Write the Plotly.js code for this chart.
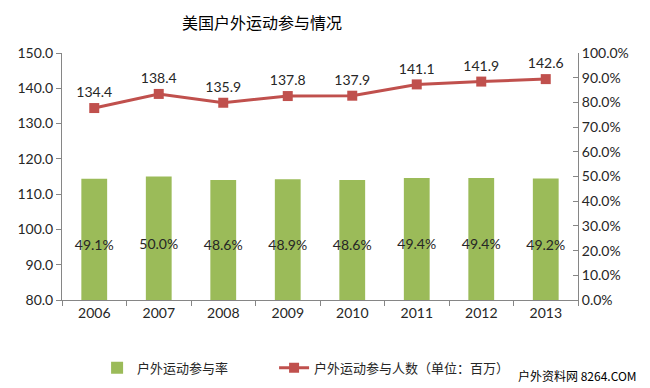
<!DOCTYPE html>
<html><head><meta charset="utf-8">
<script src="https://cdn.plot.ly/plotly-3.0.1.min.js"></script>
<style>body{margin:0;background:#fff}#chart{width:650px;height:388px}</style>
</head><body><div id="chart"></div>
<script>
const years = ['2006','2007','2008','2009','2010','2011','2012','2013'];
const rate = [49.1, 50.0, 48.6, 48.9, 48.6, 49.4, 49.4, 49.2];
const people = [134.4, 138.4, 135.9, 137.8, 137.9, 141.1, 141.9, 142.6];
const leftTicks = [80,90,100,110,120,130,140,150];
const rightTicks = [0,10,20,30,40,50,60,70,80,90,100];

const cjk = '"Noto Sans CJK SC", "Noto Sans", sans-serif';
const num = 'Lato, "Noto Sans", sans-serif';

const bar = {
  type:'bar', x: years, y: rate, yaxis:'y2', name:'户外运动参与率', legend:'legend',
  marker:{color:'#9BBB59'}, width:0.4, hoverinfo:'skip'
};
const barLabels = {
  type:'scatter', mode:'text', x: years, y: rate.map(v=>v/2), yaxis:'y2', showlegend:false,
  text: rate.map(v=>v.toFixed(1)+'%'), textposition:'bottom center',
  textfont:{family:num, size:14, color:'#262626'}, cliponaxis:false, hoverinfo:'skip'
};
const line = {
  type:'scatter', mode:'lines+markers+text', x: years, y: people, yaxis:'y', name:'户外运动参与人数（单位：百万）', legend:'legend2',
  line:{color:'#C0504D', width:3}, marker:{symbol:'square', size:10, color:'#C0504D'},
  text: people.map(v=>v.toFixed(1)), textposition:'top center',
  textfont:{family:num, size:14, color:'#262626'}, cliponaxis:false
};
const legFont = {family:cjk, size:13, color:'#262626'};
const layout = {
  width:650, height:388, margin:{l:62, r:72, t:53, b:88, autoexpand:false},
  paper_bgcolor:'#fff', plot_bgcolor:'#fff',
  title:{text:'美国户外运动参与情况', font:{family:cjk, size:16, color:'#000'}, x:0.403, xanchor:'center', y:0.94, yanchor:'middle'},
  showlegend:true,
  legend:{orientation:'h', x:0.068, xanchor:'left', yref:'container', y:0.052, yanchor:'middle', font:legFont},
  legend2:{orientation:'h', x:0.411, xanchor:'left', yref:'container', y:0.052, yanchor:'middle', font:legFont},
  xaxis:{type:'category', showline:true, linecolor:'#868686', linewidth:1, ticks:'outside', ticklen:5, tickcolor:'#868686',
    tickson:'boundaries', showgrid:false, tickfont:{family:num, size:14, color:'#262626'}, range:[-0.5,7.5]},
  yaxis:{range:[80,150], tickvals:leftTicks, ticktext:leftTicks.map(v=>v.toFixed(1)), showline:true, linecolor:'#868686',
    ticks:'outside', ticklen:5, tickcolor:'#868686', showgrid:false, zeroline:false, tickfont:{family:num, size:14, color:'#262626'}},
  yaxis2:{overlaying:'y', side:'right', range:[0,100], tickvals:rightTicks, ticktext:rightTicks.map(v=>v.toFixed(1)+'%'),
    showline:true, linecolor:'#868686', ticks:'inside', ticklen:5, tickcolor:'#868686', showgrid:false, zeroline:false,
    tickfont:{family:num, size:14, color:'#262626'}},
  annotations:[{xref:'paper', yref:'paper', x:1.118, y:-0.304, xanchor:'right', yanchor:'middle', showarrow:false,
    text:'户外资料网 8264.COM', bgcolor:'#fff', font:{family:cjk, size:12, color:'#000'}}]
};
Plotly.newPlot('chart', [bar, line, barLabels], layout, {displayModeBar:false});
</script></body></html>
